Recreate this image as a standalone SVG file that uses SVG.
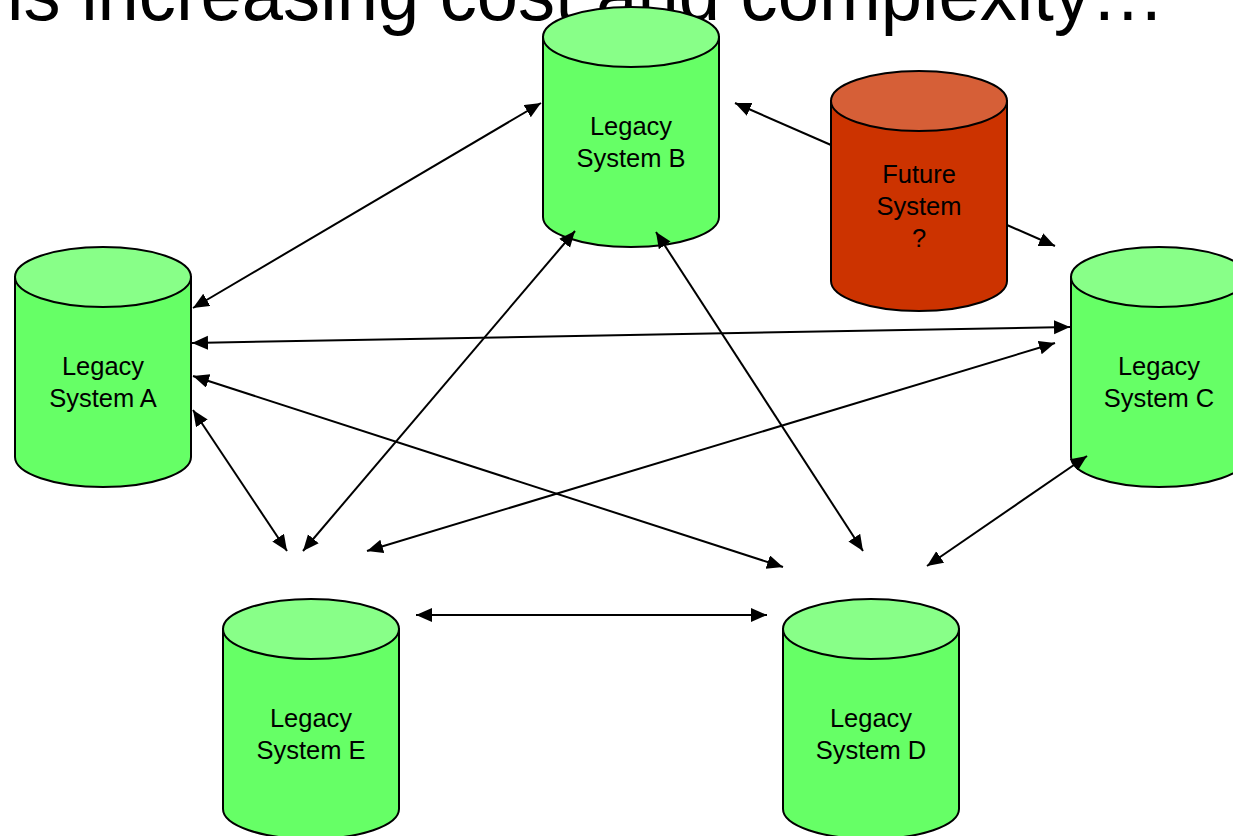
<svg xmlns="http://www.w3.org/2000/svg" width="1233" height="836" viewBox="0 0 1233 836">
<defs>
<style>
.body{stroke:#000;stroke-width:2}
.g .body{fill:#66FF66}
.g .top{fill:#88FF88;stroke:#000;stroke-width:2}
.r .body{fill:#CC3300}
.r .top{fill:#D65F37;stroke:#000;stroke-width:2}
.lbl{font-family:"Liberation Sans",Arial,sans-serif;font-size:25.5px;fill:#000;text-anchor:middle}
.title{font-family:"Liberation Sans",Arial,sans-serif;font-size:76px;fill:#000}
.conn line{stroke:#000;stroke-width:2}
</style>
<marker id="ah" markerUnits="userSpaceOnUse" markerWidth="18" markerHeight="16" refX="16" refY="7" orient="auto-start-reverse">
<path d="M0,0 L16,7 L0,14 z" fill="#000"/>
</marker>
</defs>
<rect width="1233" height="836" fill="#fff"/>
<text class="title" x="7" y="20" textLength="1158" lengthAdjust="spacingAndGlyphs">is increasing cost and complexity…</text>

<g id="nodeB" class="g">
<path class="body" d="M543,37 L543,217 A88,30 0 0 0 719,217 L719,37 Z"/>
<ellipse class="top" cx="631" cy="37" rx="88" ry="30"/>
<text class="lbl" x="631" y="135">Legacy</text>
<text class="lbl" x="631" y="167">System B</text>
</g>
<g id="nodeFuture" class="r">
<path class="body" d="M831,101 L831,281 A88,30 0 0 0 1007,281 L1007,101 Z"/>
<ellipse class="top" cx="919" cy="101" rx="88" ry="30"/>
<text class="lbl" x="919" y="183">Future</text>
<text class="lbl" x="919" y="215">System</text>
<text class="lbl" x="919" y="247">?</text>
</g>
<g id="nodeA" class="g">
<path class="body" d="M15,277 L15,457 A88,30 0 0 0 191,457 L191,277 Z"/>
<ellipse class="top" cx="103" cy="277" rx="88" ry="30"/>
<text class="lbl" x="103" y="375">Legacy</text>
<text class="lbl" x="103" y="407">System A</text>
</g>
<g id="nodeC" class="g">
<path class="body" d="M1071,277 L1071,457 A88,30 0 0 0 1247,457 L1247,277 Z"/>
<ellipse class="top" cx="1159" cy="277" rx="88" ry="30"/>
<text class="lbl" x="1159" y="375">Legacy</text>
<text class="lbl" x="1159" y="407">System C</text>
</g>
<g id="nodeE" class="g">
<path class="body" d="M223,629 L223,809 A88,30 0 0 0 399,809 L399,629 Z"/>
<ellipse class="top" cx="311" cy="629" rx="88" ry="30"/>
<text class="lbl" x="311" y="727">Legacy</text>
<text class="lbl" x="311" y="759">System E</text>
</g>
<g id="nodeD" class="g">
<path class="body" d="M783,629 L783,809 A88,30 0 0 0 959,809 L959,629 Z"/>
<ellipse class="top" cx="871" cy="629" rx="88" ry="30"/>
<text class="lbl" x="871" y="727">Legacy</text>
<text class="lbl" x="871" y="759">System D</text>
</g>

<g id="connectors" class="conn">
<line x1="193" y1="308" x2="541" y2="103" marker-start="url(#ah)" marker-end="url(#ah)"/>
<line x1="192" y1="343" x2="1070" y2="327" marker-start="url(#ah)" marker-end="url(#ah)"/>
<line x1="193" y1="376" x2="783" y2="567" marker-start="url(#ah)" marker-end="url(#ah)"/>
<line x1="193" y1="410" x2="287" y2="551" marker-start="url(#ah)" marker-end="url(#ah)"/>
<line x1="575" y1="231" x2="303" y2="551" marker-start="url(#ah)" marker-end="url(#ah)"/>
<line x1="656" y1="232" x2="863" y2="551" marker-start="url(#ah)" marker-end="url(#ah)"/>
<line x1="1055" y1="343" x2="367" y2="551" marker-start="url(#ah)" marker-end="url(#ah)"/>
<line x1="1087" y1="456" x2="927" y2="566" marker-start="url(#ah)" marker-end="url(#ah)"/>
<line x1="416" y1="615" x2="767" y2="615" marker-start="url(#ah)" marker-end="url(#ah)"/>
<line x1="831" y1="145" x2="735" y2="103" marker-end="url(#ah)"/>
<line x1="1007" y1="225" x2="1055" y2="246" marker-end="url(#ah)"/>
</g>
</svg>
